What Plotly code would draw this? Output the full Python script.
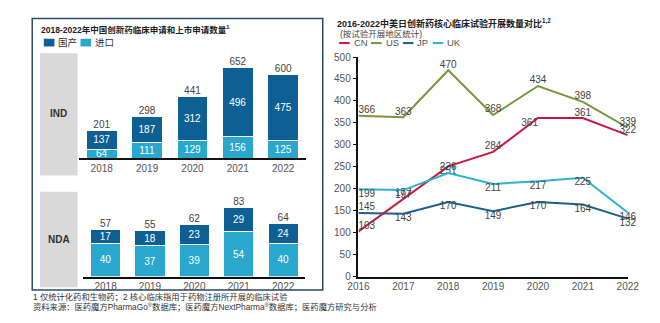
import plotly.graph_objects as go

W, H = 660, 323
def px(p): return p / W
def py(p): return 1 - p / H

FONT = "Liberation Sans, Arial, Noto Sans CJK SC"

# ---- Left panel data ----
years_l = ["2018", "2019", "2020", "2021", "2022"]
ind_domestic = [137, 187, 312, 496, 475]
ind_import = [64, 111, 129, 156, 125]
ind_total = [201, 298, 441, 652, 600]
nda_domestic = [17, 18, 23, 29, 24]
nda_import = [40, 37, 39, 54, 40]
nda_total = [57, 55, 62, 83, 64]

# ---- Right panel data ----
years_r = [2016, 2017, 2018, 2019, 2020, 2021, 2022]
cn = [103, 177, 251, 284, 361, 361, 322]
us = [366, 363, 470, 368, 434, 398, 339]
jp = [145, 143, 170, 149, 170, 164, 132]
uk = [199, 197, 236, 211, 217, 225, 146]

C_DOM = "#0e5f94"
C_IMP = "#2aa7cc"
C_CN = "#c8163f"
C_US = "#76973a"
C_JP = "#1c5f8e"
C_UK = "#2bb2d2"

fig = go.Figure()

def add_bars(xa, ya, dom, imp, tot):
    fig.add_trace(go.Bar(x=years_l, y=imp, marker=dict(color=C_IMP, line=dict(color="white", width=1)),
                         text=[str(v) for v in imp], textposition="inside", insidetextanchor="middle",
                         constraintext="none", textfont=dict(color="white", size=10, family=FONT),
                         xaxis=xa, yaxis=ya, showlegend=False, cliponaxis=False))
    fig.add_trace(go.Bar(x=years_l, y=dom, marker=dict(color=C_DOM, line=dict(color="white", width=1)),
                         text=[str(v) for v in dom], textposition="inside", insidetextanchor="middle",
                         constraintext="none", textfont=dict(color="white", size=10, family=FONT),
                         xaxis=xa, yaxis=ya, showlegend=False, cliponaxis=False))
    fig.add_trace(go.Scatter(x=years_l, y=tot, mode="text", text=[str(v) for v in tot],
                             textposition="top center", textfont=dict(color="#444", size=10, family=FONT),
                             xaxis=xa, yaxis=ya, showlegend=False, cliponaxis=False))

add_bars("x", "y", ind_domestic, ind_import, ind_total)
add_bars("x2", "y2", nda_domestic, nda_import, nda_total)

pos = {
    "CN": ["top right", "top center", "bottom center", "top center", "bottom left", "top center", "top center"],
    "US": ["top right"] + ["top center"] * 6,
    "JP": ["top right"] + ["bottom center"] * 6,
    "UK": ["bottom right", "bottom center", "top center", "bottom center", "bottom center", "bottom center", "bottom center"],
}
for name, vals, col in [("US", us, C_US), ("CN", cn, C_CN), ("UK", uk, C_UK), ("JP", jp, C_JP)]:
    fig.add_trace(go.Scatter(x=years_r, y=vals, mode="lines+text", name=name,
                             line=dict(color=col, width=2), text=[str(v) for v in vals],
                             textposition=pos[name], textfont=dict(color="#444", size=10, family=FONT),
                             xaxis="x3", yaxis="y3", showlegend=False, cliponaxis=False))

tickf = dict(size=10, color="#555", family=FONT)
fig.update_layout(
    width=W, height=H, margin=dict(l=0, r=0, t=0, b=0),
    paper_bgcolor="white", plot_bgcolor="white",
    barmode="stack", bargap=0.32,
    font=dict(family=FONT),
    xaxis=dict(domain=[px(70.5), px(305.5)], anchor="y", type="category", range=[-0.5, 4.5],
               showline=True, linecolor="#111", linewidth=1.5, ticks="", tickfont=tickf, showgrid=False),
    yaxis=dict(domain=[py(158.3), py(50)], anchor="x", range=[0, 108.3 / 0.145], visible=False),
    xaxis2=dict(domain=[px(75), px(305)], anchor="y2", type="category", range=[-0.5, 4.5],
                showline=True, linecolor="#111", linewidth=1.5, ticks="", tickfont=tickf, showgrid=False),
    yaxis2=dict(domain=[py(281), py(198)], anchor="x2", range=[0, 83 / 0.865], visible=False),
    xaxis3=dict(domain=[px(360), px(639)], anchor="y3", range=[2016, 2022], dtick=1,
                showline=True, linecolor="#111", linewidth=1.5, ticks="", tickfont=tickf, showgrid=False,
                zeroline=False),
    yaxis3=dict(domain=[py(281), py(53)], anchor="x3", range=[0, 500], dtick=50,
                showline=True, linecolor="#111", linewidth=1.5, ticks="outside", ticklen=4,
                tickcolor="#111", tickfont=tickf, showgrid=False, zeroline=False),
)

shapes = [
    dict(type="rect", xref="paper", yref="paper", x0=px(22), x1=px(323), y0=py(295), y1=py(13),
         line=dict(color="#2c4a6b", width=1.5), fillcolor="rgba(0,0,0,0)", layer="below"),
    dict(type="rect", xref="paper", yref="paper", x0=px(30), x1=px(69), y0=py(176), y1=py(49),
         line=dict(width=0), fillcolor="#d9d9d9", layer="below"),
    dict(type="rect", xref="paper", yref="paper", x0=px(30), x1=px(69), y0=py(292), y1=py(193),
         line=dict(width=0), fillcolor="#d9d9d9", layer="below"),
    dict(type="rect", xref="paper", yref="paper", x0=px(34), x1=px(45), y0=py(42), y1=py(34),
         line=dict(width=0), fillcolor=C_DOM),
    dict(type="rect", xref="paper", yref="paper", x0=px(72), x1=px(83), y0=py(42), y1=py(34),
         line=dict(width=0), fillcolor=C_IMP),
]
# short legend line samples for the right panel
for xx, col in [(340, C_CN), (373, C_US), (406, C_JP), (437, C_UK)]:
    shapes.append(dict(type="line", xref="paper", yref="paper", x0=px(xx), x1=px(xx + 11),
                       y0=py(38.5), y1=py(38.5), line=dict(color=col, width=2)))
fig.update_layout(shapes=shapes)

ann = []
def A(x, y, text, size=10, color="#222", xanchor="left", bold=False):
    if bold:
        text = "<b>" + text + "</b>"
    ann.append(dict(xref="paper", yref="paper", x=px(x), y=py(y), text=text, showarrow=False,
                    xanchor=xanchor, yanchor="middle", font=dict(size=size, color=color, family=FONT)))

A(29, 24, "2018-2022年中国创新药临床申请和上市申请数量<sup>1</sup>", size=8.5, bold=True)
A(47, 38, "国产", size=9.5, color="#333")
A(85, 38, "进口", size=9.5, color="#333")
A(49.5, 112, "IND", size=10, color="#333", xanchor="center", bold=True)
A(49.5, 242, "NDA", size=10, color="#333", xanchor="center", bold=True)
A(21, 302, "1 仅统计化药和生物药；2 核心临床指用于药物注册所开展的临床试验", size=8.3, color="#333")
A(21, 313, "资料来源：医药魔方PharmaGo<sup>®</sup>数据库；医药魔方NextPharma<sup>®</sup>数据库；医药魔方研究与分析", size=8.3, color="#333")

A(336, 18, "2016-2022中美日创新药核心临床试验开展数量对比<sup>1,2</sup>", size=9, bold=True)
A(339, 29, "(按试验开展地区统计)", size=8.5, color="#444")
for xx, name in [(353, "CN"), (386, "US"), (419, "JP"), (450, "UK")]:
    A(xx, 38, name, size=9.5, color="#555")

fig.update_layout(annotations=ann)
fig.write_html("out.html")
